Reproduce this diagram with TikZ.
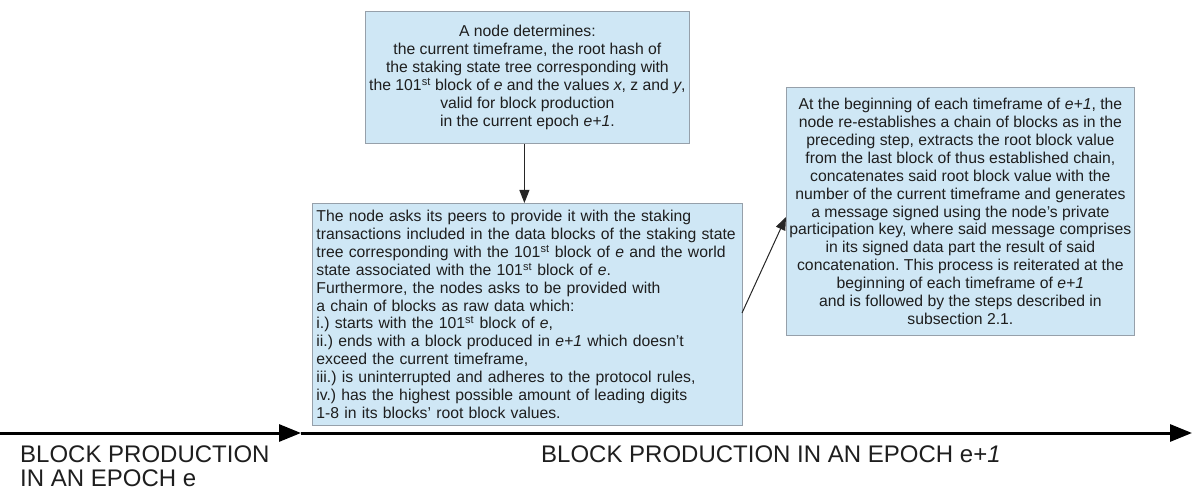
\documentclass[tikz,border=0pt]{standalone}
\usepackage{fontspec}
\setmainfont{Liberation Sans}
\usetikzlibrary{arrows.meta}
\definecolor{boxfill}{RGB}{207,231,245}
\definecolor{boxline}{RGB}{150,160,170}
\definecolor{txt}{RGB}{30,30,30}
\tikzset{
  infobox/.style={draw=boxline, fill=boxfill, line width=0.8pt, anchor=north west,
    inner sep=3pt, text=txt, font=\fontsize{15.75}{17.9}\selectfont\frenchspacing},
  link/.style={draw=black!85, line width=1pt, -{Triangle[length=13pt,width=10pt]}},
  timeline/.style={draw=black, line width=3pt, -{Triangle[length=22pt,width=17pt]}},
  biglabel/.style={anchor=base west, inner sep=0pt, text=txt, font=\fontsize{24}{25}\selectfont}
}
\begin{document}
\begin{tikzpicture}[x=1pt,y=-1pt]
\useasboundingbox (0,0) rectangle (1192,489);
\node[infobox, minimum width=324pt, minimum height=132pt, align=center] (top) at (365,11)
 {A node determines:\\
  the current timeframe, the root hash of\hspace*{46pt}\\
  the staking state tree corresponding with\\
  the 101\textsuperscript{st} block of \textit{e} and the values \textit{x}, z and \textit{y},\\
  valid for block production\\
  in the current epoch \textit{e+1}.};
\node[infobox, minimum width=430pt, minimum height=222pt, text width=422pt, inner xsep=4pt, align=left] (mid) at (312,203)
 {The node asks its peers to provide it with the staking\\
  transactions included in the data blocks of the staking state\\
  tree corresponding with the 101\textsuperscript{st} block of \textit{e} and the world\\
  state associated with the 101\textsuperscript{st} block of \textit{e}.\\
  Furthermore, the nodes asks to be provided with\\
  a chain of blocks as raw data which:\\
  i.) starts with the 101\textsuperscript{st} block of \textit{e},\\
  ii.) ends with a block produced in \textit{e+1} which doesn't\\
  exceed the current timeframe,\\
  iii.) is uninterrupted and adheres to the protocol rules,\\
  iv.) has the highest possible amount of leading digits\\
  1-8 in its blocks' root block values.};
\node[infobox, minimum width=347pt, minimum height=248pt, align=center] (right) at (786,87)
 {At the beginning of each timeframe of \textit{e+1}, the\\
  node re-establishes a chain of blocks as in the\\
  preceding step, extracts the root block value\\
  from the last block of thus established chain,\\
  concatenates said root block value with the\\
  number of the current timeframe and generates\\
  a message signed using the node's private\\
  participation key, where said message comprises\\
  in its signed data part the result of said\\
  concatenation. This process is reiterated at the\\
  beginning of each timeframe of \textit{e+1}\\
  and is followed by the steps described in\\
  subsection 2.1.};
\draw[link] ([xshift=-3pt]top.south) -- ([xshift=-3pt]mid.north);
\coordinate (midout) at (742,313);
\coordinate (rightin) at (786,217);
\draw[link] (midout) -- (rightin);
\coordinate (t0) at (0,433);
\coordinate (t1) at (301,433);
\coordinate (t2) at (1192,433);
\draw[timeline] (t0) -- (t1);
\draw[timeline] (t1) -- (t2);
\node[biglabel] (la) at (20,462) {BLOCK PRODUCTION};
\node[biglabel] (lb) at (20,486) {IN AN EPOCH e};
\node[biglabel] (lc) at (541,462) {BLOCK PRODUCTION IN AN EPOCH e+\textit{1}};
\end{tikzpicture}
\end{document}
